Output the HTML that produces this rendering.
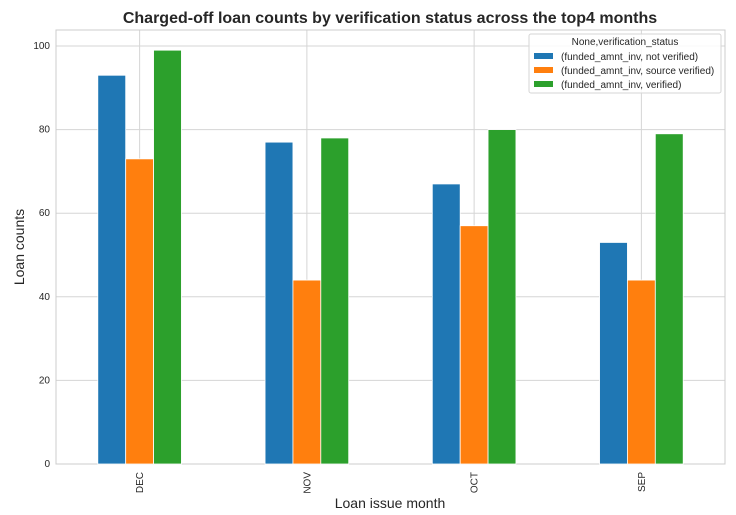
<!DOCTYPE html>
<html><head><meta charset="utf-8"><style>
body{margin:0;background:#fff;}
svg{display:block;font-family:"Liberation Sans",Arial,sans-serif;}
</style></head><body>
<svg id="chart" width="736" height="515">
<text x="390" y="23" text-anchor="middle" font-size="16" font-weight="bold" fill="#262626">Charged-off loan counts by verification status across the top4 months</text>
<g id="grid"></g>
<rect x="56" y="30" width="669" height="434" fill="none" stroke="#cccccc"/>
<g id="bars"></g>
<g id="ticks"></g>
<text x="390" y="508" text-anchor="middle" font-size="14" fill="#262626">Loan issue month</text>
<text transform="translate(24,247) rotate(-90)" text-anchor="middle" font-size="14" fill="#262626">Loan counts</text>
<g>
<rect x="529" y="34" width="192" height="59" rx="2" fill="#fff" fill-opacity="0.85" stroke="#d5d5d5"/>
<text x="625" y="45" text-anchor="middle" font-size="10" fill="#262626">None,verification_status</text>
<rect x="534" y="53" width="19" height="6" fill="#1f77b4"/>
<text x="561" y="60" font-size="10" fill="#262626">(funded_amnt_inv, not verified)</text>
<rect x="534" y="67" width="19" height="6" fill="#ff7f0e"/>
<text x="561" y="74" font-size="10" fill="#262626">(funded_amnt_inv, source verified)</text>
<rect x="534" y="81" width="19" height="6" fill="#2ca02c"/>
<text x="561" y="88" font-size="10" fill="#262626">(funded_amnt_inv, verified)</text>
</g>
</svg>
<script>
const categories = ["DEC","NOV","OCT","SEP"];
const notVerified = [93,77,67,53];
const sourceVerified = [73,44,57,44];
const verified = [99,78,80,79];
const yTicks = [0,20,40,60,80,100];
const seriesNames = ["not-verified","source-verified","verified"];
const ns="http://www.w3.org/2000/svg";
const L=56,R=725,T=30,B=464;
function y(v){return B-v*4.18;}
function xc(i){return L+(R-L)/categories.length*(i+0.5);}
const grid=document.getElementById('grid'),bars=document.getElementById('bars'),ticks=document.getElementById('ticks');
function mk(tag,attrs,parent){const e=document.createElementNS(ns,tag);for(const k in attrs)e.setAttribute(k,attrs[k]);parent.appendChild(e);return e;}
yTicks.forEach(t=>{
  const l=mk('line',{x1:L,x2:R,y1:y(t),y2:y(t),stroke:'#d5d5d5'},grid);
  
  
  const tx=mk('text',{x:L-6,y:y(t)+3,'text-anchor':'end','font-size':10,fill:'#262626'},ticks);
  tx.textContent=t;
  
  
});
const series=[notVerified,sourceVerified,verified],colors=['#1f77b4','#ff7f0e','#2ca02c'];
const bw=(R-L)/categories.length*0.5/3;
categories.forEach((c,i)=>{
  const gl=mk('line',{x1:xc(i),x2:xc(i),y1:T,y2:B,stroke:'#d5d5d5'},grid);
  
  
  series.forEach((s,j)=>{
    const x0=xc(i)-1.5*bw+j*bw;
    const r=mk('rect',{x:x0,y:y(s[i]),width:bw,height:B-y(s[i]),fill:colors[j],stroke:'#fff','stroke-width':0.8},bars);
    
    
  });
  const tx=mk('text',{transform:`translate(${xc(i)+3.5},${B+8}) rotate(-90)`,'text-anchor':'end','font-size':10,fill:'#262626'},ticks);
  tx.textContent=c;
  
  
});
</script>
</body></html>
